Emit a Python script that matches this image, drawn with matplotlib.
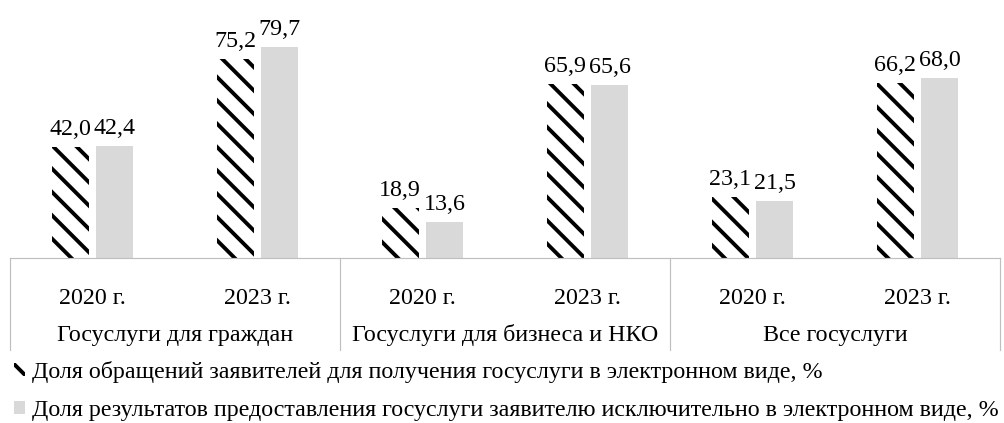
import numpy as np
import matplotlib
matplotlib.use('Agg')
from matplotlib import pyplot as plt
from matplotlib import transforms

plt.rcParams['font.family'] = ['Liberation Serif', 'DejaVu Serif']
plt.rcParams['hatch.linewidth'] = 4.0
plt.rcParams['hatch.color'] = 'black'

years = ['2020 г.', '2023 г.', '2020 г.', '2023 г.', '2020 г.', '2023 г.']
groups = ['Госуслуги для граждан', 'Госуслуги для бизнеса и НКО', 'Все госуслуги']
share_requests = [42.0, 75.2, 18.9, 65.9, 23.1, 66.2]
share_results = [42.4, 79.7, 13.6, 65.6, 21.5, 68.0]
labels = ['Доля обращений заявителей для получения госуслуги в электронном виде, %',
          'Доля результатов предоставления госуслуги заявителю исключительно в электронном виде, %']

DPI = 70
W, H = 1004, 423
fig = plt.figure(figsize=(W / DPI, H / DPI), dpi=DPI)
ax_top, ax_bot = 20, 258
ax = fig.add_axes([10 / W, (H - ax_bot) / H, 990 / W, (ax_bot - ax_top) / H])
axh = ax_bot - ax_top

fs = 24 * 72 / DPI
fs_leg = 24 * 72 / DPI
x = np.arange(len(years))
bw = 0.225
gap = 0.045
b1 = ax.bar(x - bw / 2 - gap / 2, share_requests, bw, color='white', edgecolor='black',
            hatch='\\', linewidth=0, label=labels[0])
b2 = ax.bar(x + bw / 2 + gap / 2, share_results, bw, color='#d9d9d9', edgecolor='none',
            linewidth=0, label=labels[1])

for bars, vals in ((b1, share_requests), (b2, share_results)):
    for r, v in zip(bars, vals):
        ax.annotate(f'{v:.1f}'.replace('.', ','), (r.get_x() + r.get_width() / 2, v),
                    xytext=(0, 7), textcoords='offset pixels', ha='center', va='bottom',
                    fontsize=fs)

ax.set_xlim(-0.5, len(years) - 0.5)
ax.set_ylim(0, 90)
ax.set_yticks([])
ax.set_xticks([])
for s in ('top', 'left', 'right'):
    ax.spines[s].set_visible(False)
ax.spines['bottom'].set_color('#bfbfbf')
ax.spines['bottom'].set_linewidth(1.2)

trans = transforms.blended_transform_factory(ax.transData, ax.transAxes)
for xb in [-0.5, 1.5, 3.5, 5.5]:
    ax.plot([xb, xb], [0, -92 / axh], color='#bfbfbf', lw=1.2, transform=trans, clip_on=False)
for xi, yl in zip(x, years):
    ax.text(xi, -41 / axh, yl, ha='center', va='center', fontsize=fs, transform=trans)
for gi, g in enumerate(groups):
    ax.text(2 * gi + 0.5, -77 / axh, g, ha='center', va='center', fontsize=fs, transform=trans)

fig.legend(handles=[b1, b2], labels=labels, loc='lower left', bbox_to_anchor=(14 / W, 2 / H),
           frameon=False, fontsize=fs_leg, handlelength=0.45, handleheight=0.45, handletextpad=0.3,
           labelspacing=0.72, borderpad=0.0, borderaxespad=0)

fig.savefig('out.png', dpi=DPI)
